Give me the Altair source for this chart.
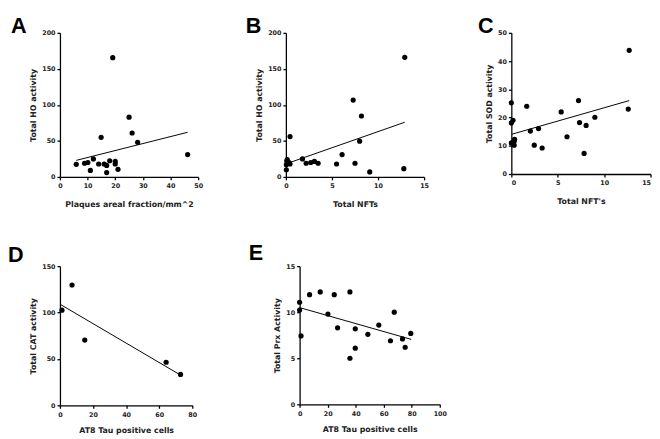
import altair as alt
import pandas as pd

# ---------------- data ----------------
# Panel A: Plaques areal fraction vs Total HO activity
a_x = [5.9, 8.9, 10.1, 11.0, 12.1, 14.0, 14.9, 16.0, 16.9, 16.9, 18.0, 19.1, 20.0, 20.0, 21.0, 25.0, 26.1, 28.1, 46.2]
a_y = [17.5, 19, 20, 9, 25, 18, 55, 18, 16, 6, 22.5, 165.5, 21.6, 18, 10.6, 83, 61, 48, 31]
a_line_x = [5.9, 46.2]
a_line_y = [23, 62]

# Panel B: Total NFTs vs Total HO activity
b_x = [0.05, 0.05, 0.1, 0.15, 0.35, 0.45, 0.45, 1.8, 2.2, 2.7, 3.1, 3.5, 5.5, 6.1, 7.3, 7.5, 8.0, 8.2, 9.1, 12.8, 12.9]
b_y = [10, 17, 22, 24, 20, 18, 56, 25, 19, 20, 21.6, 19, 18, 31, 106.7, 19, 49.7, 84.6, 7, 11.5, 166]
b_line_x = [0.07, 12.9]
b_line_y = [18.4, 75.9]

# Panel C: Total NFT's vs Total SOD activity
c_x = [0.0, 0.0, 0.0, 0.18, 0.3, 0.3, 0.35, 1.66, 2.05, 2.47, 2.93, 3.32, 5.37, 6.0, 7.24, 7.35, 7.84, 8.06, 9.0, 12.6, 12.7]
c_y = [25.2, 18.1, 11.0, 19.0, 11.6, 10.2, 12.3, 24.0, 15.2, 10.2, 16.1, 9.2, 22.0, 13.2, 26.0, 18.2, 7.3, 17.2, 20.1, 23.0, 43.8]
c_line_x = [0.07, 12.7]
c_line_y = [14.1, 26.0]

# Panel D: AT8 Tau positive cells vs Total CAT activity
d_x = [1.2, 7.3, 15.0, 64.2, 72.9]
d_y = [102.5, 129.7, 70.3, 46.4, 33.3]
d_line_x = [0.0, 72.9]
d_line_y = [109.0, 32.6]

# Panel E: AT8 Tau positive cells vs Total Prx Activity
e_x = [0.0, 0.0, 1.0, 7.1, 14.7, 20.2, 24.7, 27.1, 35.9, 35.9, 39.7, 39.7, 48.7, 56.5, 64.8, 67.5, 73.4, 75.3, 79.3]
e_y = [11.08, 10.24, 7.43, 11.9, 12.2, 9.8, 11.9, 8.3, 12.2, 5.0, 8.2, 6.1, 7.6, 8.6, 6.9, 10.0, 7.1, 6.2, 7.7]
e_line_x = [0.0, 79.6]
e_line_y = [10.5, 7.05]

FONT = "DejaVu Sans"


def panel(xs, ys, lx, ly, xtitle, ytitle, xmax, xstep, ymax, ystep,
          w, h, letter, letter_x, letter_y, xtitle_pad, flush=False):
    pts = pd.DataFrame({"x": xs, "y": ys})
    ln = pd.DataFrame({"x": lx, "y": ly})
    xvals = list(range(0, int(xmax) + 1, xstep))
    yvals = list(range(0, int(ymax) + 1, ystep))
    xscale = alt.Scale(domain=[0, xmax], nice=False, zero=True)
    yscale = alt.Scale(domain=[0, ymax], nice=False, zero=True)
    xaxis = alt.Axis(values=xvals, labelPadding=3, titlePadding=xtitle_pad,
                     labelFlush=flush, labelOverlap=False)
    yaxis = alt.Axis(values=yvals, labelPadding=2, titlePadding=4,
                     labelFlush=False, labelOverlap=False)
    xenc = alt.X("x:Q", title=xtitle, scale=xscale, axis=xaxis)
    yenc = alt.Y("y:Q", title=ytitle, scale=yscale, axis=yaxis)
    points = alt.Chart(pts).mark_circle(size=28, color="black", opacity=1).encode(x=xenc, y=yenc)
    line = alt.Chart(ln).mark_line(color="black", strokeWidth=1).encode(x=xenc, y=yenc)
    lab = alt.Chart(pd.DataFrame({"t": [letter]})).mark_text(
        align="left", baseline="top", fontSize=22, font="Liberation Sans",
        fontWeight="bold", color="black"
    ).encode(x=alt.value(letter_x), y=alt.value(letter_y), text="t:N")
    return alt.layer(points, line, lab).properties(width=w, height=h)


A = panel(a_x, a_y, a_line_x, a_line_y, "Plaques areal fraction/mm^2", "Total HO activity",
          50, 10, 200, 50, 141, 147, "A", -50, -17, 12)
B = panel(b_x, b_y, b_line_x, b_line_y, "Total NFTs", "Total HO activity",
          15, 5, 200, 50, 141, 147, "B", -41, -17, 12)
C = panel(c_x, c_y, c_line_x, c_line_y, "Total NFT's", "Total SOD activity",
          15, 5, 50, 10, 142, 144, "C", -34, -17, 12, flush=True)
D = panel(d_x, d_y, d_line_x, d_line_y, "AT8 Tau positive cells", "Total CAT activity",
          80, 20, 150, 50, 135, 142, "D", -53, -21, 9)
E = panel(e_x, e_y, e_line_x, e_line_y, "AT8 Tau positive cells", "Total Prx Activity",
          100, 20, 15, 5, 143, 141, "E", -52, -23, 9)

row1 = alt.hconcat(alt.hconcat(A, B, spacing=43.5), C, spacing=49.5)
row2 = alt.hconcat(D, E, spacing=52.5)

chart = alt.vconcat(
    row1, row2, spacing=34, padding={"left": 0, "top": 3, "right": 0, "bottom": 0}
).configure_view(
    stroke=None
).configure_axis(
    grid=False,
    labelOverlap=False,
    domainColor="black",
    domainWidth=1.3,
    tickColor="black",
    tickWidth=1.3,
    tickSize=3,
    labelFont=FONT,
    labelFontWeight="bold",
    labelFontSize=6.5,
    labelColor="#222",
    titleFont=FONT,
    titleFontWeight="bold",
    titleFontSize=8,
    titleColor="#222",
)

chart.save("out.html", embed_options={"renderer": "svg", "actions": False})
